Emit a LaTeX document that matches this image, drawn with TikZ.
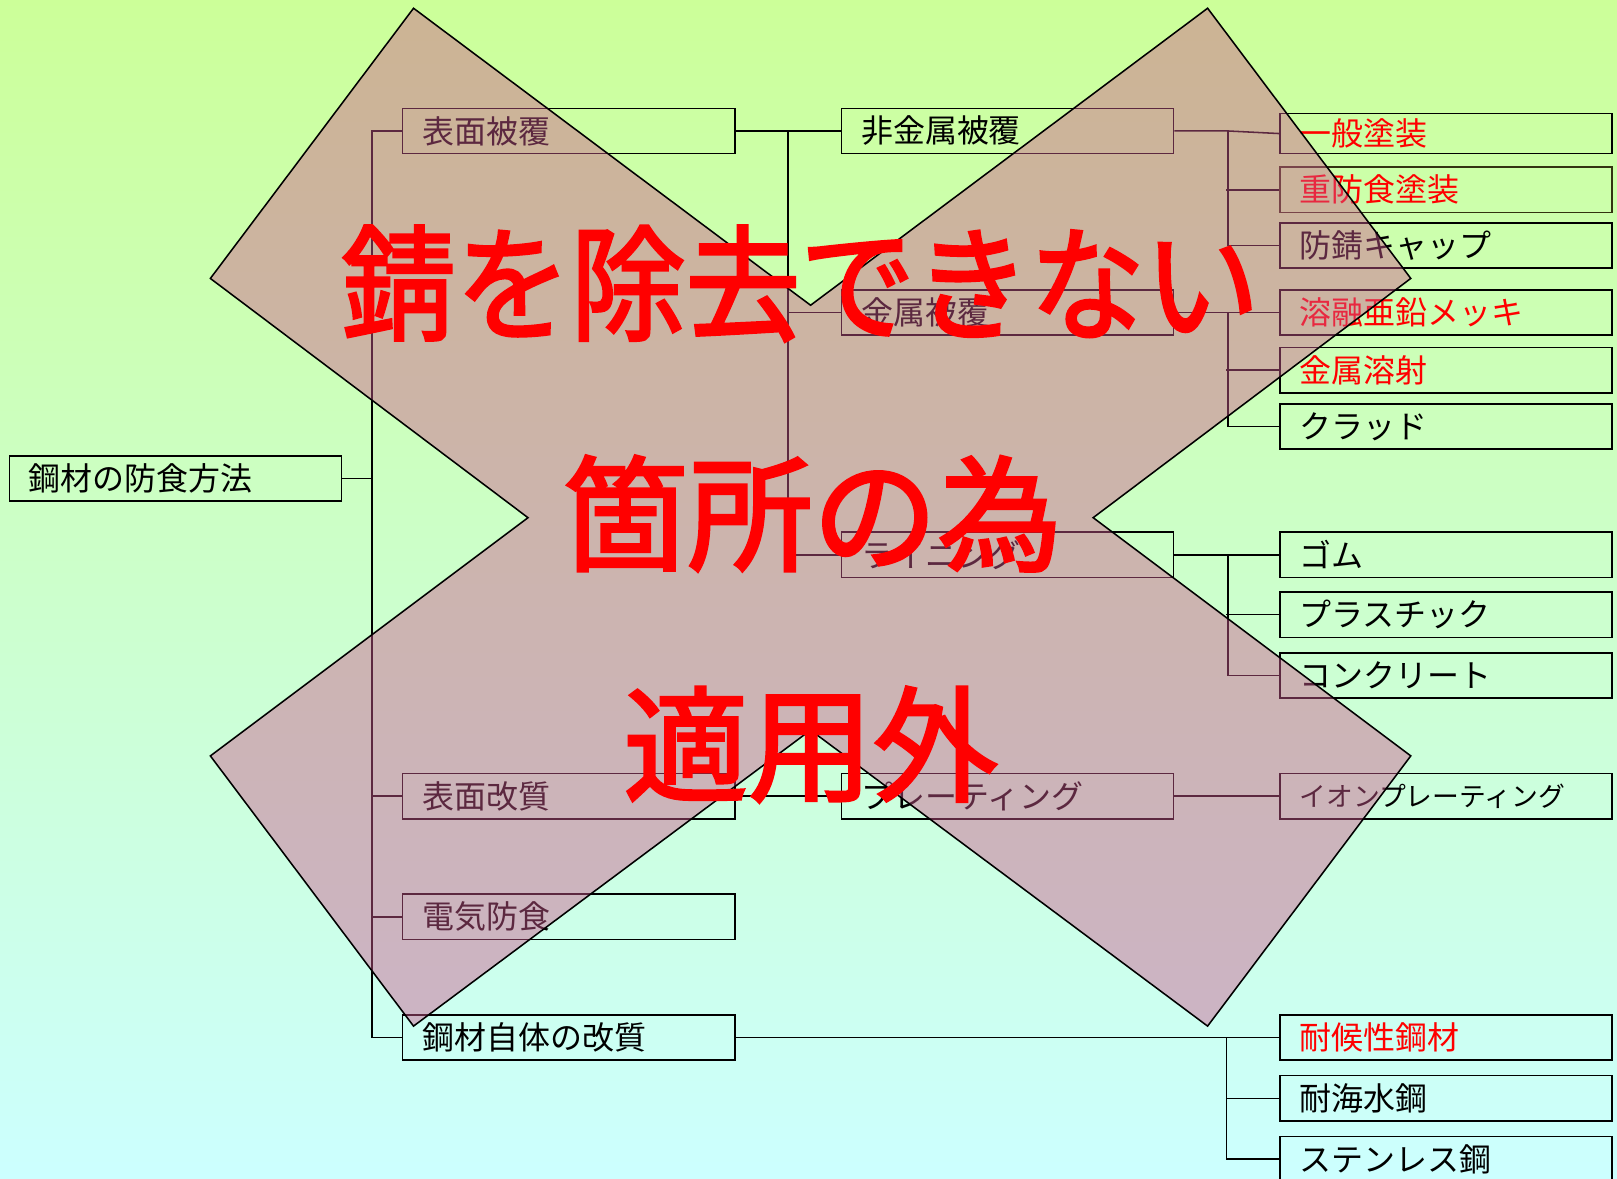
\documentclass[tikz,border=0pt]{standalone}
\usepackage{fontspec}
\newfontfamily\cjk{Noto Sans CJK JP}
\newfontfamily\cjkbig[FakeBold=2.5]{Noto Sans CJK JP}
\definecolor{bgtop}{RGB}{204,255,153}
\definecolor{bgbot}{RGB}{204,255,255}
\definecolor{ovl}{RGB}{204,89,142}
\definecolor{darkolive}{RGB}{51,51,17}
\begin{document}
\begin{tikzpicture}[x=1pt,y=-1pt,
  box/.style={draw=black, line width=1.5pt, minimum width=322pt, minimum height=44pt,
    inner xsep=19pt, inner ysep=0pt, text width=284pt, align=left,
    font=\cjk\fontsize{31}{35}\selectfont},
  conn/.style={draw=black, line width=1.5pt},
  big/.style={text=red, font=\cjkbig\fontsize{121}{130}\selectfont, inner sep=0pt}]
\useasboundingbox (0,0) rectangle (1568,1143);
\shade[top color=bgtop, bottom color=bgbot] (0,0) rectangle (1568,1143);
\begin{scope}
\clip (0,0) rectangle (1568,1143);
% boxes
\node[box] (root) at (170,464) {鋼材の防食方法};
\node[box] (A1) at (551.5,127) {表面被覆};
\node[box] (A2) at (551.5,772) {表面改質};
\node[box] (A3) at (551.5,889) {電気防食};
\node[box] (A4) at (551.5,1006) {鋼材自体の改質};
\node[box] (B1) at (977,127) {非金属被覆};
\node[box] (B2) at (977,303) {金属被覆};
\node[box] (B3) at (977,538) {ライニング};
\node[box] (B4) at (977,772) {プレーティング};
\node[box,text=red,minimum height=39pt] (C1) at (1402,129.5) {\raisebox{-3pt}{一般塗装}};
\node[box,text=red,draw=darkolive] (C2) at (1402,184) {重防食塗装};
\node[box] (C3) at (1402,238) {防錆キャップ};
\node[box,text=red] (C4) at (1402,303) {溶融亜鉛メッキ};
\node[box,text=red] (C5) at (1402,359) {金属溶射};
\node[box] (C6) at (1402,413.5) {クラッド};
\node[box] (C7) at (1402,538) {ゴム};
\node[box] (C8) at (1402,596) {プラスチック};
\node[box] (C9) at (1402,655) {コンクリート};
\node[box,font=\cjk\fontsize{26}{30}\selectfont] (C10) at (1402,772) {イオンプレーティング};
\node[box,text=red] (C11) at (1402,1006) {耐候性鋼材};
\node[box] (C12) at (1402,1065) {耐海水鋼};
\node[box] (C13) at (1402,1124) {ステンレス鋼};
% connectors
\draw[conn] (root.east) -- ++(30,0);
\draw[conn] (A1.west) -- ++(-29,0) |- (A4.west);
\draw[conn] (A2.west) -- ++(-29,0);
\draw[conn] (A3.west) -- ++(-29,0);
\draw[conn] (A1.east) -- (B1.west);
\draw[conn] ([xshift=-51pt]B1.west) |- (B3.west);
\draw[conn] (B2.west) -- ++(-51,0);
\draw[conn] (A2.east) -- (B4.west);
\draw[conn] (B1.east) -- ++(52,0) -- (C1.west);
\draw[conn] ([xshift=52pt]B1.east) |- (C3.west);
\draw[conn] (C2.west) -- ++(-51,0);
\draw[conn] (B2.east) -- (C4.west);
\draw[conn] ([xshift=52pt]B2.east) |- (C6.west);
\draw[conn] (C5.west) -- ++(-51,0);
\draw[conn] (B3.east) -- (C7.west);
\draw[conn] ([xshift=52pt]B3.east) |- (C9.west);
\draw[conn] (C8.west) -- ++(-51,0);
\draw[conn] (B4.east) -- (C10.west);
\draw[conn] (A4.east) -- (C11.west);
\draw[conn] ([xshift=-51pt]C11.west) |- (C13.west);
\draw[conn] (C12.west) -- ++(-51,0);
% overlay X
\fill[ovl, fill opacity=0.45] (401,8) -- (786,296) -- (1171,8) -- (1368,270) -- (1060,502) -- (1368,733) -- (1171,995) -- (786,708) -- (401,995) -- (204,733) -- (512,502) -- (204,270) -- cycle;
\draw[black, line width=1.5pt, line join=miter] (401,8) -- (786,296) -- (1171,8) -- (1368,270) -- (1060,502) -- (1368,733) -- (1171,995) -- (786,708) -- (401,995) -- (204,733) -- (512,502) -- (204,270) -- cycle;
\node[big, xscale=0.92] (L1) at (776,275) {錆を除去できない};
\node[big] (L2) at (788,498) {箇所の為};
\node[big] (L3) at (786,722) {適用外};
\end{scope}
\end{tikzpicture}
\end{document}
